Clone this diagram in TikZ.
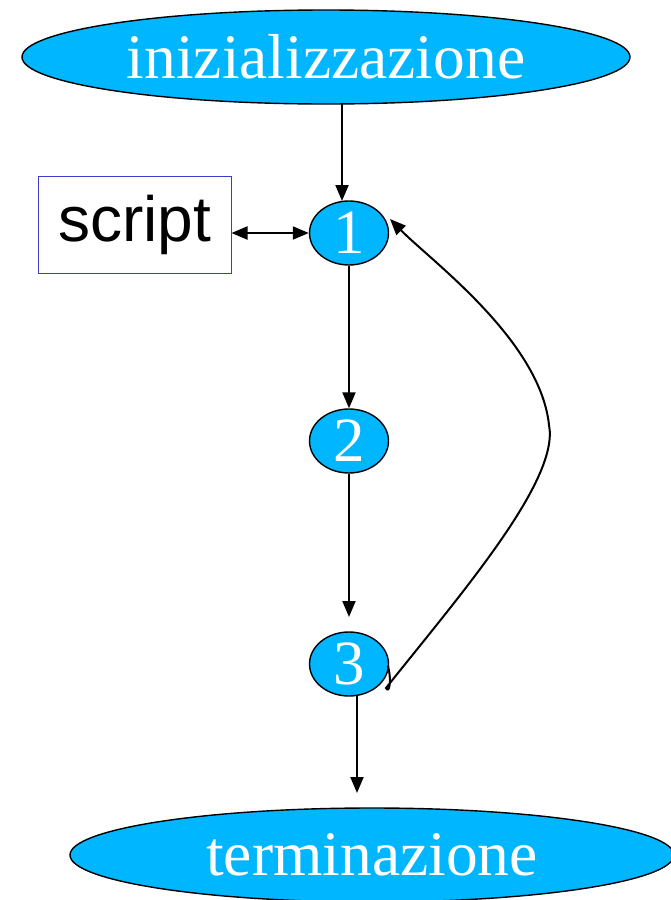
\documentclass[tikz,border=0pt]{standalone}
\usepackage{fontspec}
\setmainfont{Liberation Serif}
\setsansfont{Liberation Sans}
\usetikzlibrary{shapes.geometric,arrows.meta}
\definecolor{cyanfill}{RGB}{0,182,255}
\definecolor{boxblue}{RGB}{60,60,200}
\begin{document}
\begin{tikzpicture}[x=1pt,y=-1pt,
  bigell/.style={ellipse,draw=black,line width=1.4pt,fill=cyanfill,inner sep=0pt,
    minimum width=608pt,minimum height=94pt,text=white,font=\fontsize{63.5}{63.5}\selectfont},
  numell/.style={ellipse,draw=black,line width=1.4pt,fill=cyanfill,inner sep=0pt,
    minimum width=79pt,minimum height=64pt,text=white,font=\fontsize{63}{63}\selectfont},
  conn/.style={line width=2pt,-{Triangle[length=16pt,width=13pt]}},
  dconn/.style={line width=2pt,{Triangle[length=16pt,width=13pt]}-{Triangle[length=16pt,width=13pt]}}]
\useasboundingbox (0,0) rectangle (671,900);
\node[bigell] (init) at (326,57) {\raisebox{-1pt}{inizializzazione}};
\node[numell] (n1) at (349,233) {\raisebox{-1pt}{1}};
\node[numell] (n2) at (349,441) {\raisebox{-1pt}{2}};
\node[numell] (n3) at (349,664) {\raisebox{-1pt}{3}};
\node[bigell,minimum width=604pt] (term) at (372,855) {\raisebox{-2pt}{terminazione}};
\node[draw=boxblue,line width=1pt,minimum width=193pt,minimum height=97pt,inner sep=0pt,
  font=\sffamily\fontsize{64}{64}\selectfont] (script) at (134.5,224.5) {\raisebox{-2pt}{script}};
\coordinate (a2) at (349,617);
\coordinate (a3) at (357,793);
\coordinate (s3) at (357,696);
\coordinate (t1) at (342,104);
\coordinate (t1e) at (342,201);
\draw[conn] (t1) -- (t1e);
\draw[conn] (n1.south) -- (n2.north);
\draw[conn] (n2.south) -- (a2);
\draw[conn] (s3) -- (a3);
\draw[dconn] (script.east |- n1.west) -- (n1.west);
\coordinate (c0) at (388,666);
\coordinate (c1) at (386,688);
\coordinate (c2) at (549,425);
\coordinate (c3) at (390,219);
\draw[conn] (c0) .. controls (392,682) and (389,694) .. (c1)
  .. controls (460,595) and (560,480) .. (c2)
  .. controls (540,340) and (430,260) .. (c3);
\end{tikzpicture}
\end{document}
